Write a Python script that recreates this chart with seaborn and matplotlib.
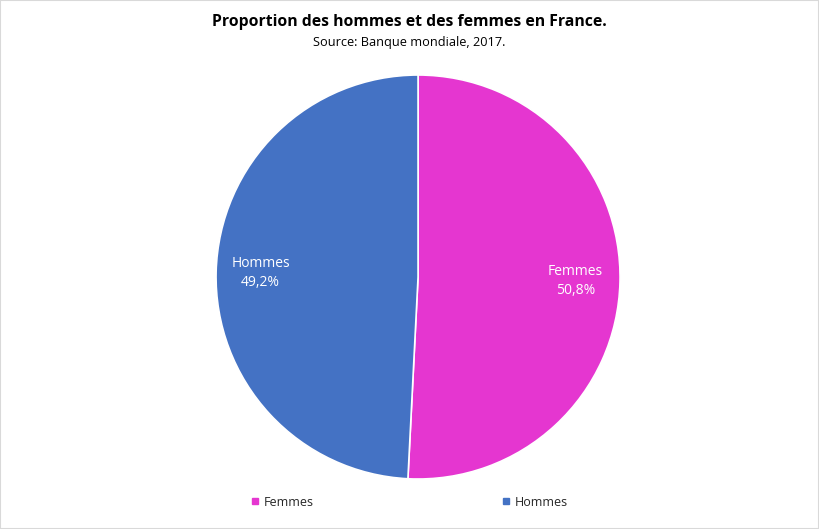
import matplotlib
matplotlib.use("Agg")
import matplotlib.pyplot as plt
import seaborn as sns
from matplotlib.lines import Line2D
from matplotlib.patches import Rectangle

categories = ["Femmes", "Hommes"]
shares = [50.8, 49.2]
colors = ["#E536D0", "#4472C4"]

sns.set_theme(style="white")
plt.rcParams["font.family"] = ["Open Sans", "DejaVu Sans"]

fig = plt.figure(figsize=(8.19, 5.29), dpi=100)
fig.patches.append(Rectangle((0, 0), 1, 1, transform=fig.transFigure, fill=False,
                             edgecolor="#d9d9d9", linewidth=1.5))

ax = fig.add_axes([0.2638, 0.0945, 0.4933, 0.7637])
labels = [f"{c}\n{str(v).replace('.', ',')}%" for c, v in zip(categories, shares)]
wedges, texts = ax.pie(shares, labels=labels, colors=colors, startangle=90,
                       counterclock=False, labeldistance=0.78,
                       wedgeprops=dict(edgecolor="white", linewidth=1.2),
                       textprops=dict(color="white", fontsize=10, linespacing=1.4))
for t in texts:
    t.set_ha("center")
    t.set_multialignment("center")
ax.set_xlim(-1, 1)
ax.set_ylim(-1, 1)
ax.set_aspect("equal")

fig.text(0.5, 0.958, "Proportion des hommes et des femmes en France.", ha="center",
         va="center", fontsize=11.3, fontweight="bold", color="black")
fig.text(0.5, 0.919, "Source: Banque mondiale, 2017.", ha="center", va="center",
         fontsize=9.2, color="black")

handles = [Line2D([], [], marker="s", linestyle="none", markersize=5,
                  markerfacecolor=c, markeredgecolor=c) for c in colors]
fig.legend(handles, categories, loc="center", bbox_to_anchor=(0.5, 0.051), ncol=2,
           frameon=False, fontsize=9, handlelength=0.6, handletextpad=0.4,
           columnspacing=15.1)

fig.savefig("out.png", dpi=100)
